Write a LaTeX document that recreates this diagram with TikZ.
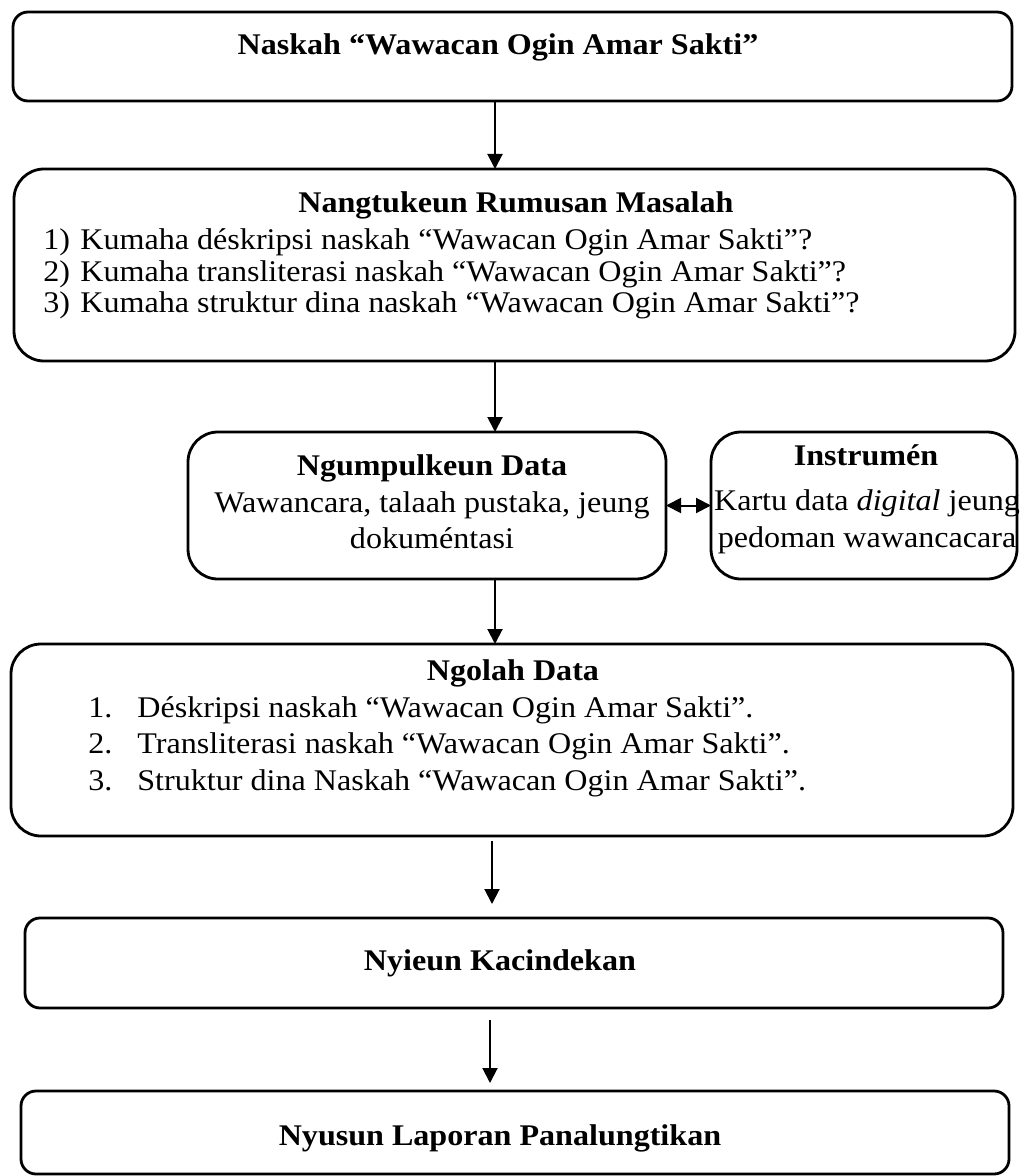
\documentclass[tikz,border=0pt]{standalone}
\usepackage{fontspec}
\setmainfont{Liberation Serif}[FakeStretch=1.07]
\usetikzlibrary{arrows.meta}

\begin{document}
\begin{tikzpicture}[x=0.5pt, y=-0.5pt, font=\fontsize{15}{18}\selectfont,
  box/.style={draw, line width=1.4pt, inner sep=0pt, outer sep=0pt},
  arr/.style={line width=1pt, -{Triangle[length=7.5pt,width=7.5pt]}},
  heading/.style={anchor=base, inner sep=0pt, font=\fontsize{15}{18}\selectfont\bfseries},
  txt/.style={anchor=base west, inner sep=0pt}]
\useasboundingbox (0,0) rectangle (1024,1176);

% boxes
\node[box, rounded corners=7.5pt, minimum width=499.5pt, minimum height=44.5pt] (naskah) at (512.5,56.5) {};
\node[box, rounded corners=15pt, minimum width=500.5pt, minimum height=96pt] (rumusan) at (514.5,265) {};
\node[box, rounded corners=15pt, minimum width=239pt, minimum height=73.5pt] (ngumpul) at (427,505.5) {};
\node[box, rounded corners=15pt, minimum width=153pt, minimum height=73.5pt] (instrumen) at (864,505.5) {};
\node[box, rounded corners=15pt, minimum width=501pt, minimum height=96pt] (ngolah) at (512,740) {};
\node[box, rounded corners=7.5pt, minimum width=489pt, minimum height=45pt] (nyieun) at (514,963) {};
\node[box, rounded corners=7.5pt, minimum width=494pt, minimum height=41.5pt] (nyusun) at (515,1132.5) {};

% texts
\node[heading] (naskahT) at (498,55) {Naskah “Wawacan Ogin Amar Sakti”};

\node[heading] (rumusanT) at (516,213) {Nangtukeun Rumusan Masalah};
\node[txt] (rumusan1) at (43,250) {\makebox[18.5pt][l]{1)}Kumaha déskripsi naskah “Wawacan Ogin Amar Sakti”?};
\node[txt] (rumusan2) at (43,282) {\makebox[18.5pt][l]{2)}Kumaha transliterasi naskah “Wawacan Ogin Amar Sakti”?};
\node[txt] (rumusan3) at (43,313) {\makebox[18.5pt][l]{3)}Kumaha struktur dina naskah “Wawacan Ogin Amar Sakti”?};

\node[heading] (ngumpulT) at (432,475) {Ngumpulkeun Data};
\node[anchor=base, inner sep=0pt] (ngumpul1) at (432,512) {Wawancara, talaah pustaka, jeung};
\node[anchor=base, inner sep=0pt] (ngumpul2) at (432,548) {dokuméntasi};

\node[heading] (instrumenT) at (866,465) {Instrumén};
\node[anchor=base, inner sep=0pt] (instrumen1) at (867,510) {Kartu data \textit{digital} jeung};
\node[anchor=base, inner sep=0pt] (instrumen2) at (867,547) {pedoman wawancacara};

\node[heading] (ngolahT) at (513,680) {Ngolah Data};
\node[txt] (ngolah1) at (88,717) {\makebox[24.5pt][l]{1.}Déskripsi naskah “Wawacan Ogin Amar Sakti”.};
\node[txt] (ngolah2) at (88,753) {\makebox[24.5pt][l]{2.}Transliterasi naskah “Wawacan Ogin Amar Sakti”.};
\node[txt] (ngolah3) at (88,790) {\makebox[24.5pt][l]{3.}Struktur dina Naskah “Wawacan Ogin Amar Sakti”.};

\node[heading] (nyieunT) at (500,970) {Nyieun Kacindekan};
\node[heading] (nyusunT) at (500,1145) {Nyusun Laporan Panalungtikan};

% arrows
\draw[arr] (naskah.south -| 495,0) -- (rumusan.north -| 495,0);
\draw[arr] (rumusan.south -| 495,0) -- (ngumpul.north -| 495,0);
\draw[arr] (ngumpul.south -| 495,0) -- (ngolah.north -| 495,0);
\draw[arr, shorten <=2.5pt, shorten >=7pt] (ngolah.south -| 492,0) -- (nyieun.north -| 492,0);
\draw[arr, shorten <=6pt, shorten >=4pt] (nyieun.south -| 490,0) -- (nyusun.north -| 490,0);
\draw[line width=1pt, {Triangle[length=7.5pt,width=7.5pt]}-{Triangle[length=7.5pt,width=7.5pt]}] (ngumpul.east) -- (instrumen.west);
\end{tikzpicture}
\end{document}
